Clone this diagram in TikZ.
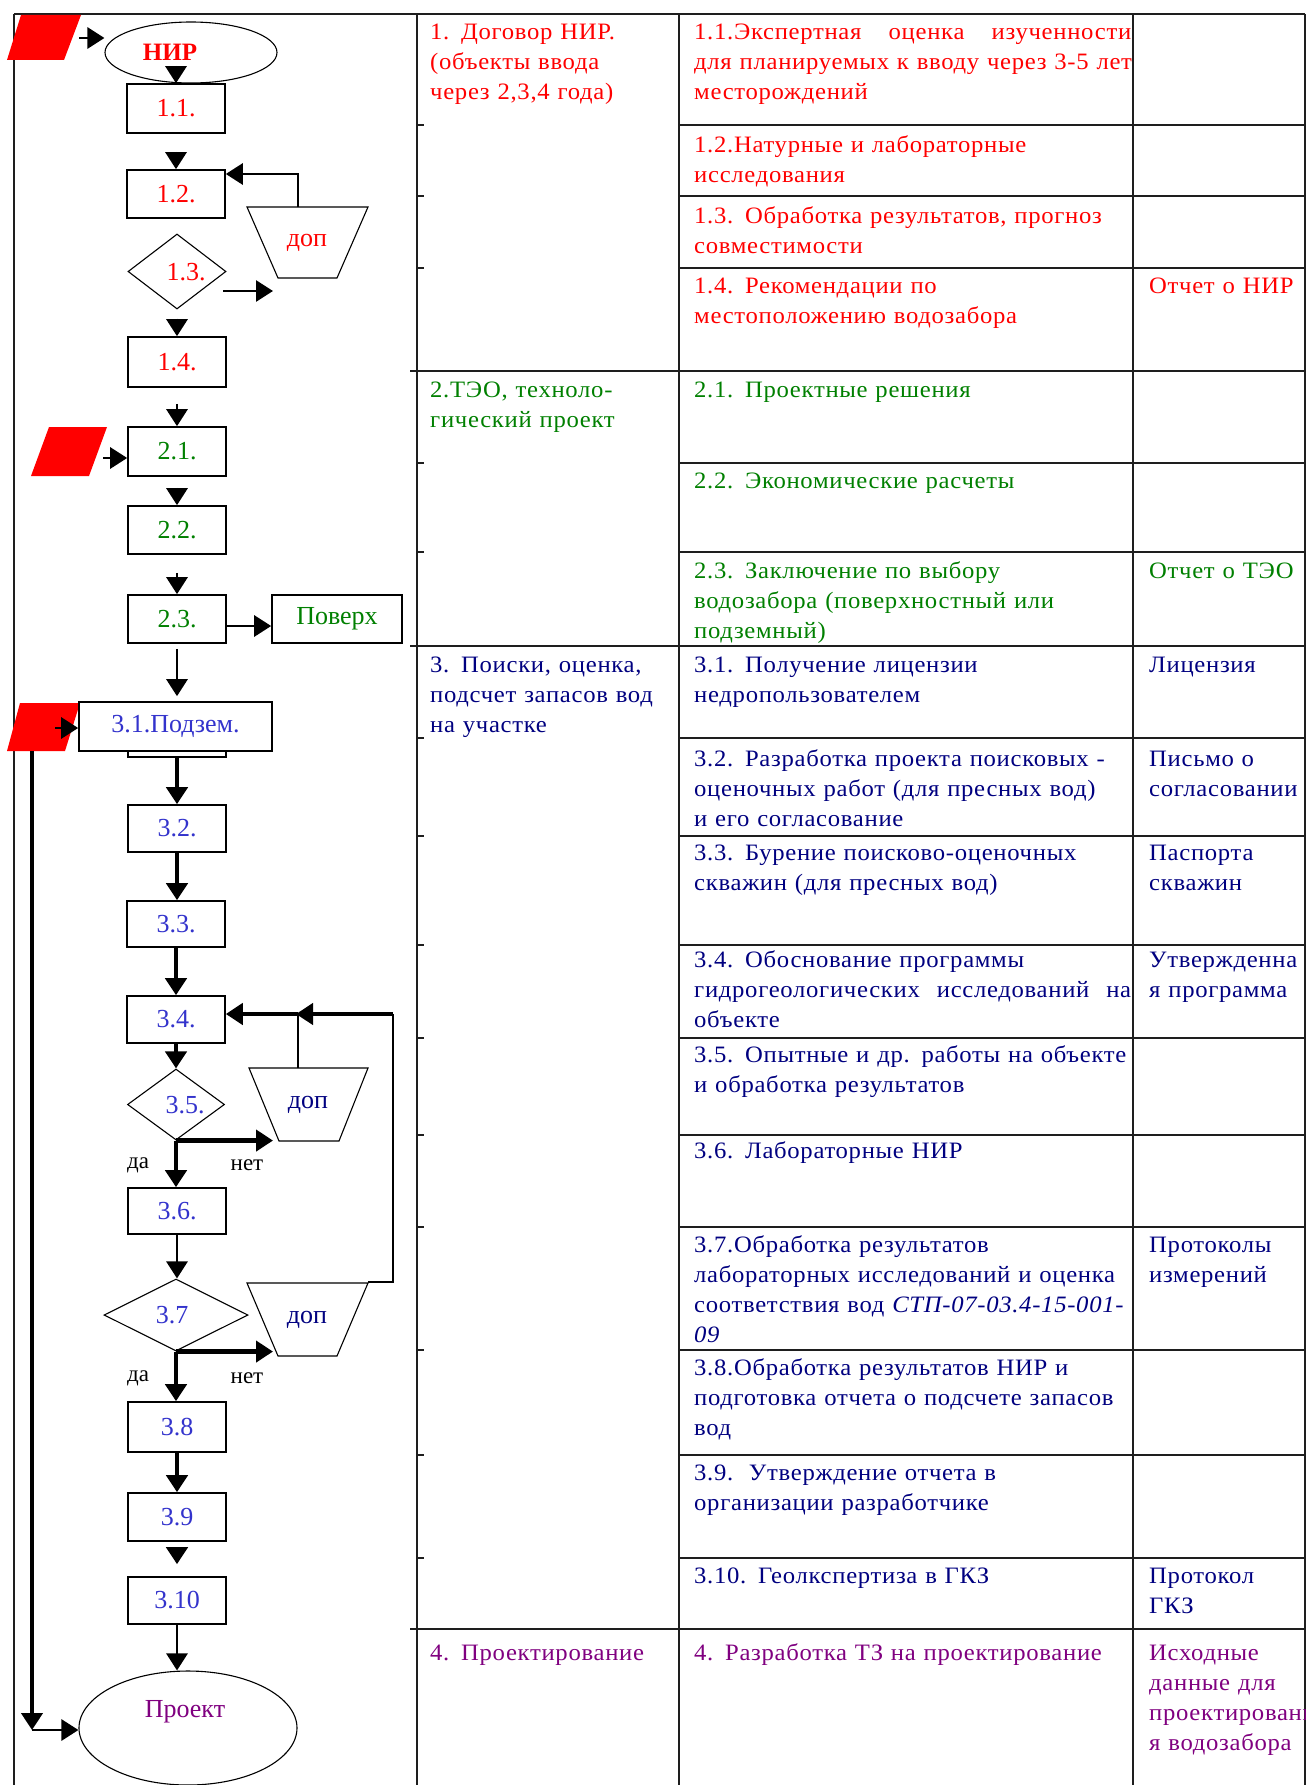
\documentclass[tikz,border=0pt]{standalone}
\usepackage{fontspec}
\setmainfont{Liberation Serif}
\newfontfamily\tabfont[FakeStretch=1.05,LetterSpace=3]{Liberation Serif}
\usetikzlibrary{arrows.meta,shapes.geometric}
\definecolor{cred}{RGB}{255,0,0}
\definecolor{cgreen}{RGB}{0,128,0}
\definecolor{cnavy}{RGB}{0,0,128}
\definecolor{cblue}{RGB}{51,51,204}
\definecolor{cpurp}{RGB}{128,0,128}
\definecolor{cline}{RGB}{30,30,30}
\newcommand\flab{\fontsize{26}{30}\selectfont}
\newcommand\fsmall{\fontsize{23}{28}\selectfont}
\newcommand\tabtxt{\tabfont\fontsize{23.5}{30}\selectfont}
\newcommand\jline[1]{\leavevmode\hbox to 437pt{#1}}
\begin{document}
\begin{tikzpicture}[x=1pt,y=-1pt,
  tline/.style={line width=2pt, draw=cline},
  fbox/.style={draw, fill=white, line width=1.6pt, rectangle, minimum width=98pt, inner sep=0pt, font=\flab},
  fdia/.style={draw, line width=1.1pt, diamond, inner sep=0pt},
  fell/.style={draw, line width=1.1pt, ellipse, inner sep=0pt},
  trap/.style={draw, line width=1.1pt},
  arr/.style={line width=2.8pt, -{Triangle[length=17pt,width=21pt]}},
  tarr/.style={line width=4.5pt, -{Triangle[length=17pt,width=21pt]}},
  tcell/.style={anchor=north west, inner sep=0pt, align=left, font=\tabtxt, text width=520pt},
  flt/.style={font=\flab, inner sep=0pt},
]
\useasboundingbox (0,0) rectangle (1306,1785);
\fill[white] (0,0) rectangle (1306,1785);

% ---------------- table grid ----------------
\draw[tline] (14,14) -- (1305,14);
\foreach \xx in {14,417,679,1133,1305} \draw[tline] (\xx,14) -- (\xx,1785);
\foreach \yy in {371,646,1629} \draw[tline] (410,\yy) -- (1305,\yy);
\foreach \yy in {125,196,268,463,552,738,836,945,1038,1135,1227,1350,1455,1558} {
  \draw[tline] (679,\yy) -- (1305,\yy);
  \draw[line width=1.5pt, cline] (417,\yy) -- (424,\yy);
}

% ---------------- column 2: stages ----------------
\node[tcell, text=cred, text width=240pt] (s1) at (430,18) {\strut 1. Договор НИР.\\(объекты ввода\\через 2,3,4 года)};
\node[tcell, text=cgreen, text width=240pt] (s2) at (430,376) {\strut 2.ТЭО, техноло-\\гический проект};
\node[tcell, text=cnavy, text width=240pt] (s3) at (430,651) {\strut 3. Поиски, оценка,\\подсчет запасов вод\\на участке};
\node[tcell, text=cpurp, text width=240pt] (s4) at (430,1639) {\strut 4. Проектирование};

% ---------------- column 3: works ----------------
\begin{scope}
\clip (679,14) rectangle (1133,1785);
\node[tcell, text=cred] (w11) at (694,18) {\strut\jline{1.1.Экспертная\hfill оценка\hfill изученности}\\для планируемых к вводу через 3-5 лет\\месторождений};
\node[tcell, text=cred] (w12) at (694,131) {\strut 1.2.Натурные и лабораторные\\исследования};
\node[tcell, text=cred] (w13) at (694,202) {\strut 1.3. Обработка результатов, прогноз\\совместимости};
\node[tcell, text=cred] (w14) at (694,272) {\strut 1.4. Рекомендации по\\местоположению водозабора};
\node[tcell, text=cgreen] (w21) at (694,376) {\strut 2.1. Проектные решения};
\node[tcell, text=cgreen] (w22) at (694,467) {\strut 2.2. Экономические расчеты};
\node[tcell, text=cgreen] (w23) at (694,557) {\strut 2.3. Заключение по выбору\\водозабора (поверхностный или\\подземный)};
\node[tcell, text=cnavy] (w31) at (694,651) {\strut 3.1. Получение лицензии\\недропользователем};
\node[tcell, text=cnavy] (w32) at (694,745) {\strut 3.2. Разработка проекта поисковых -\\оценочных работ (для пресных вод)\\и его согласование};
\node[tcell, text=cnavy] (w33) at (694,839) {\strut 3.3. Бурение поисково-оценочных\\скважин (для пресных вод)};
\node[tcell, text=cnavy] (w34) at (694,946) {\strut 3.4. Обоснование программы\\\jline{гидрогеологических\hfill исследований\hfill на}\\объекте};
\node[tcell, text=cnavy] (w35) at (694,1041) {\strut 3.5. Опытные и др. работы на объекте\\и обработка результатов};
\node[tcell, text=cnavy] (w36) at (694,1137) {\strut 3.6. Лабораторные НИР};
\node[tcell, text=cnavy] (w37) at (694,1231) {\strut 3.7.Обработка результатов\\лабораторных исследований и оценка\\соответствия вод \textit{СТП-07-03.4-15-001-}\\\textit{09}};
\node[tcell, text=cnavy] (w38) at (694,1354) {\strut 3.8.Обработка результатов НИР и\\подготовка отчета о подсчете запасов\\вод};
\node[tcell, text=cnavy] (w39) at (694,1459) {\strut 3.9.\ \ Утверждение отчета в\\организации разработчике};
\node[tcell, text=cnavy] (w310) at (694,1562) {\strut 3.10. Геолкспертиза в ГКЗ};
\node[tcell, text=cpurp] (w4) at (694,1639) {\strut 4. Разработка ТЗ на проектирование};
\end{scope}

% ---------------- column 4: documents ----------------
\begin{scope}
\clip (1133,14) rectangle (1305,1785);
\node[tcell, text=cred] (r14) at (1149,272) {\strut Отчет о НИР};
\node[tcell, text=cgreen] (r23) at (1149,557) {\strut Отчет о ТЭО};
\node[tcell, text=cnavy] (r31) at (1149,651) {\strut Лицензия};
\node[tcell, text=cnavy] (r32) at (1149,745) {\strut Письмо о\\согласовании};
\node[tcell, text=cnavy] (r33) at (1149,839) {\strut Паспорта\\скважин};
\node[tcell, text=cnavy] (r34) at (1149,946) {\strut Утвержденна\\я программа};
\node[tcell, text=cnavy] (r37) at (1149,1231) {\strut Протоколы\\измерений};
\node[tcell, text=cnavy] (r310) at (1149,1562) {\strut Протокол\\ГКЗ};
\node[tcell, text=cpurp] (r4) at (1149,1639) {\strut Исходные\\данные для\\проектировани\\я водозабора};
\end{scope}

% ---------------- flowchart ----------------
% input parallelograms
\fill[cred] (21,15) -- (81,15) -- (64,60) -- (7,60) -- cycle;
\fill[cred] (49,427) -- (107,427) -- (89,476) -- (31,476) -- cycle;
\fill[cred] (20,703) -- (80,703) -- (65,751) -- (7,751) -- cycle;
\coordinate (p1o) at (79,38);
\coordinate (p2o) at (103,458);
\coordinate (p3o) at (55,728);
\coordinate (p3b) at (32,751);

% stage 1
\node[fell, minimum width=172pt, minimum height=61pt] (nir) at (191,52.5) {};
\node[font=\fontsize{25}{30}\selectfont\bfseries, text=cred, inner sep=0pt] (nirt) at (170,52) {НИР};
\node[fbox, minimum height=49pt, text=cred] (b11) at (176,108.5) {1.1.};
\node[fbox, minimum height=48pt, text=cred] (b12) at (176,194) {1.2.};
\node[fdia, minimum width=98pt, minimum height=75pt] (d13) at (177,271.5) {};
\node[flt, text=cred] (l13) at (186,272) {1.3.};
\draw[trap] (247,207) -- (368,207) -- (337,278) -- (278,278) -- cycle;
\node[flt, text=cred] (dop1) at (307,243) {доп};
\node[fbox, minimum height=50pt, text=cred] (b14) at (177,362) {1.4.};

% stage 2
\node[fbox, minimum height=49pt, text=cgreen] (b21) at (177,451.5) {2.1.};
\node[fbox, minimum height=48pt, text=cgreen] (b22) at (177,530) {2.2.};
\node[fbox, minimum height=48pt, text=cgreen] (b23) at (177,619) {2.3.};
\node[fbox, minimum height=48pt, minimum width=130pt, text=cgreen] (pov) at (337,619) {Поверх};

% stage 3
\node[draw, line width=1.4pt, minimum width=98pt, minimum height=6pt, inner sep=0pt] (hid) at (177,754) {};
\node[fbox, minimum height=49pt, minimum width=193pt, text=cblue] (b31) at (175.5,726.5) {3.1.Подзем.};
\node[fbox, minimum height=47pt, text=cblue] (b32) at (177,828.5) {3.2.};
\node[fbox, minimum height=46pt, text=cblue] (b33) at (176,924) {3.3.};
\node[fbox, minimum height=47pt, text=cblue] (b34) at (176,1019.5) {3.4.};
\node[fdia, minimum width=97pt, minimum height=71pt] (d35) at (176,1104.5) {};
\node[flt, text=cblue] (l35) at (185,1105) {3.5.};
\draw[trap] (249,1068) -- (368,1068) -- (339,1141) -- (279,1141) -- cycle;
\node[flt, text=cnavy] (dop2) at (308,1105) {доп};
\node[fbox, minimum height=46pt, text=cblue] (b36) at (177,1211) {3.6.};
\node[fdia, minimum width=144pt, minimum height=72pt] (d37) at (176,1315) {};
\node[flt, text=cblue] (l37) at (172,1315) {3.7};
\draw[trap] (247,1283) -- (368,1283) -- (337,1356) -- (278,1356) -- cycle;
\node[flt, text=cnavy] (dop3) at (307,1320) {доп};
\node[fbox, minimum height=50pt, text=cblue] (b38) at (177,1427) {3.8};
\node[fbox, minimum height=48pt, text=cblue] (b39) at (177,1517) {3.9};
\node[fbox, minimum height=47pt, text=cblue] (b310) at (177,1600.5) {3.10};
\node[fell, minimum width=218pt, minimum height=114pt] (proj) at (188,1728) {};
\node[flt, text=cpurp] (projt) at (185,1712) {Проект};

\node[font=\fsmall, inner sep=0pt] (da1) at (138,1165) {да};
\node[font=\fsmall, inner sep=0pt] (net1) at (247,1165) {нет};
\node[font=\fsmall, inner sep=0pt] (da2) at (138,1378) {да};
\node[font=\fsmall, inner sep=0pt] (net2) at (247,1378) {нет};

% ---------------- connectors ----------------
\coordinate (nirout) at (176,66);
\coordinate (d13o) at (223,291);
\coordinate (d13e) at (273,291);
\coordinate (dop1t) at (298,207);
\coordinate (dop2t) at (298,1068);
\coordinate (j2) at (298,1014);
\coordinate (r2) at (393,1014);
\coordinate (r3) at (393,1282);
\coordinate (dop3t) at (368,1282);
\coordinate (lb) at (32,1730);

\draw[arr] (p1o) -- (p1o -| nir.west);
\draw[arr] (nirout) -- (nirout |- b11.north);
\draw[arr, shorten <=18pt] (b11.south) -- (b11.south |- b12.north);
\draw[arr] (dop1t) |- ([yshift=20pt]b12.east);
\draw[arr] (d13o) -- (d13e);
\draw[arr, shorten <=9pt] (d13.south) -- (d13.south |- b14.north);
\draw[arr, shorten <=16pt] (b14.south) -- (b14.south |- b21.north);
\draw[arr] (p2o) -- (p2o -| b21.west);
\draw[arr, shorten <=11pt] (b21.south) -- (b21.south |- b22.north);
\draw[arr, shorten <=18pt] (b22.south) -- (b22.south |- b23.north);
\draw[arr] ([yshift=-7pt]b23.east) -- ([yshift=-7pt]pov.west);
\draw[arr, shorten <=5pt, shorten >=5pt] (b23.south) -- (b23.south |- b31.north);
\draw[arr] (p3o) -- (p3o -| b31.west);

\draw[tarr] (hid.south) -- (hid.south |- b32.north);
\draw[tarr] (b32.south) -- (b32.south |- b33.north);
\draw[tarr] (b33.south) -- (b33.south |- b34.north);
\draw[tarr] (b34.south) -- (b34.south |- d35.north);
\draw[tarr] (d35.south) -- (d35.south |- b36.north);
\draw[tarr] (d35.south) -- ++(97,0);
\draw[arr] (b36.south) -- (b36.south |- d37.north);
\draw[tarr] (d37.south) -- ++(97,0);
\draw[tarr] (d37.south) -- (d37.south |- b38.north);
\draw[tarr] (b38.south) -- (b38.south |- b39.north);
\draw[tarr, shorten <=6pt, shorten >=12pt] (b39.south) -- (b39.south |- b310.north);
\draw[arr] (b310.south) -- (b310.south |- proj.north);

\draw[line width=2pt] (dop2t) -- (j2);
\draw[tarr] (r2) -- ([xshift=-2pt]j2);
\draw[tarr] (j2) -- (j2 -| b34.east);
\draw[line width=2pt] (r2) -- (r3) -- (dop3t);

\draw[tarr] (p3b) -- (lb);
\draw[arr] (lb) -- (lb -| proj.west);
\end{tikzpicture}
\end{document}
